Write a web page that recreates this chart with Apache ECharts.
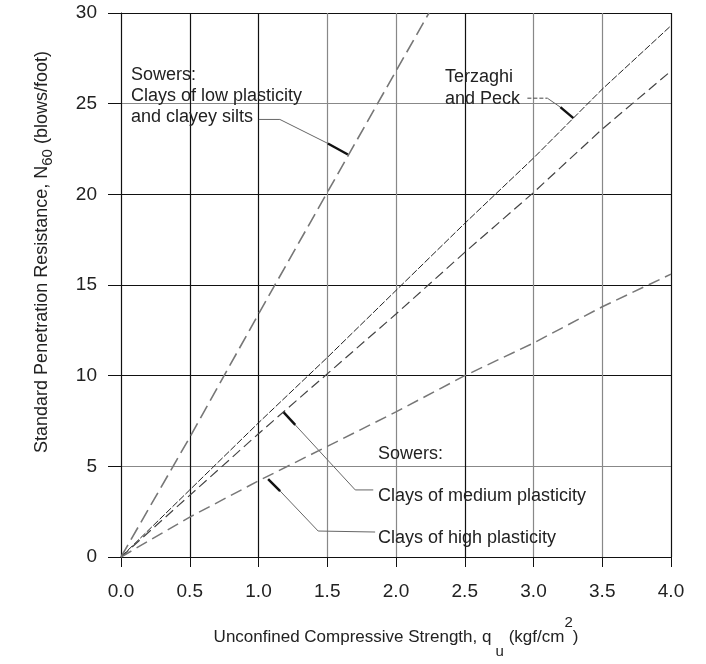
<!DOCTYPE html>
<html><head><meta charset="utf-8">
<script src="https://cdn.jsdelivr.net/npm/echarts@6/dist/echarts.min.js"></script>
<style>html,body{margin:0;padding:0;background:#fff}#c{width:706px;height:664px}</style>
</head><body><div id="c"></div>
<script>
// ---- data ----
const quLow = [0, 0.5, 1.0, 1.5, 2.0, 2.24];
const nLow = [0, 6.6, 13.4, 20.1, 26.8, 30];
const quTP = [0, 0.5, 1.0, 1.5, 2.0, 2.5, 3.0, 3.5, 4.0];
const nTP = [0, 3.7, 7.4, 11.0, 14.7, 18.4, 22.0, 25.8, 29.3];
const quMed = [0, 0.5, 1.0, 1.5, 2.0, 2.5, 3.0, 3.5, 4.0];
const nMed = [0, 3.4, 6.8, 10.1, 13.4, 16.8, 20.1, 23.6, 26.8];
const quHigh = [0, 0.5, 1.0, 1.5, 2.0, 2.5, 3.0, 3.5, 4.0];
const nHigh = [0, 2.2, 4.2, 6.1, 8.0, 10.0, 11.8, 13.8, 15.6];
const xTickLabels = ['0.0','0.5','1.0','1.5','2.0','2.5','3.0','3.5','4.0'];
const yTickLabels = ['0','5','10','15','20','25','30'];
// annotation arrow tips (data coords)
const tipLow = [1.65, 22.2];
const tipTP = [3.29, 24.2];
const tipMed = [1.18, 8.0];
const tipHigh = [1.07, 4.3];

const zip = (a, b) => a.map((v, i) => [v, b[i]]);
const FONT = '"Liberation Sans", Arial, sans-serif';

const chart = echarts.init(document.getElementById('c'), null, {renderer: 'canvas'});
const vGrid = ['#111','#111','#111','#888','#888','#111','#888','#888','#111'];
const hGrid = ['#111','#888','#111','#111','#111','#888','#111'];

chart.setOption({
  animation: false,
  backgroundColor: '#fff',
  grid: {left: 121, top: 13, width: 550, height: 550, containLabel: false},
  xAxis: {
    type: 'value', min: 0, max: 4, interval: 0.5,
    axisLine: {show: true, lineStyle: {color: '#111', width: 1}},
    axisTick: {show: true, length: 10, inside: false, lineStyle: {color: '#111'}},
    splitLine: {show: true, lineStyle: {color: vGrid, width: 1.2}},
    axisLabel: {margin: 25, fontSize: 19, fontFamily: FONT, color: '#222',
      formatter: (v) => xTickLabels[Math.round(v / 0.5)]},
    name: '{n|Unconfined Compressive Strength, q}{sub| u}{n| (kgf/cm}{sup|2}{n|)}',
    nameLocation: 'middle', nameGap: 58,
    nameTextStyle: {
      rich: {
        n: {fontSize: 17, fontFamily: FONT, color: '#222', lineHeight: 44},
        sub: {fontSize: 15, fontFamily: FONT, color: '#222', lineHeight: 30, verticalAlign: 'bottom'},
        sup: {fontSize: 15, fontFamily: FONT, color: '#222', lineHeight: 12, verticalAlign: 'top'}
      }
    }
  },
  yAxis: {
    type: 'value', min: 0, max: 30, interval: 5,
    axisLine: {show: true, lineStyle: {color: '#111', width: 1}},
    axisTick: {show: true, length: 13, inside: false, lineStyle: {color: '#111'}},
    splitLine: {show: true, lineStyle: {color: hGrid, width: 1.2}},
    axisLabel: {margin: 24, fontSize: 19, fontFamily: FONT, color: '#222',
      formatter: (v) => yTickLabels[Math.round(v / 5)]},
    name: '{n|Standard Penetration Resistance, N}{sub|60}{n| (blows/foot)}',
    nameLocation: 'middle', nameGap: 66, nameRotate: 90,
    nameTextStyle: {
      padding: [0, 0, 0, 66],
      rich: {
        n: {fontSize: 18, fontFamily: FONT, color: '#222', lineHeight: 26},
        sub: {fontSize: 15, fontFamily: FONT, color: '#222', lineHeight: 18, verticalAlign: 'bottom'}
      }
    }
  },
  series: [
    {name: 'Sowers low', type: 'line', data: zip(quLow, nLow), showSymbol: false, clip: true,
     lineStyle: {color: '#777', width: 1.6, type: [14, 6]}},
    {name: 'Terzaghi and Peck', type: 'line', data: zip(quTP, nTP), showSymbol: false,
     lineStyle: {color: '#222', width: 1, type: [7, 2]}},
    {name: 'Sowers medium', type: 'line', data: zip(quMed, nMed), showSymbol: false,
     lineStyle: {color: '#444', width: 1.2, type: [10, 5]}},
    {name: 'Sowers high', type: 'line', data: zip(quHigh, nHigh), showSymbol: false,
     lineStyle: {color: '#777', width: 1.5, type: [12, 6]}}
  ]
});

function leader(tipData, pts, dashedPts) {
  const t = chart.convertToPixel({gridIndex: 0}, tipData);
  const abs = pts.map(p => [t[0] + p[0], t[1] + p[1]]);
  const els = [];
  if (dashedPts) {
    els.push({type: 'polyline', shape: {points: dashedPts.map(p => [t[0] + p[0], t[1] + p[1]])},
      style: {stroke: '#444', lineWidth: 1, lineDash: [4, 2], fill: null}});
  }
  els.push({type: 'polyline', shape: {points: abs}, style: {stroke: '#666', lineWidth: 1, fill: null}});
  const last = abs[abs.length - 1];
  els.push({type: 'line', shape: {x1: last[0], y1: last[1], x2: t[0], y2: t[1]},
    style: {stroke: '#111', lineWidth: 2.4}});
  return els;
}
const txt = (text, x, y, lh) => ({type: 'text', x: x, y: y,
  style: {text: text, font: '18px ' + FONT, fill: '#222', lineHeight: lh || 21, verticalAlign: 'top'}});

const g = [];
g.push(txt('Sowers:\nClays of low plasticity\nand clayey silts', 131, 65));
g.push(...leader(tipLow, [[-89, -35], [-68, -35], [-20, -11]]));
g.push(txt('Terzaghi\nand Peck', 445, 66, 22));
g.push(...leader(tipTP, [[-26, -20], [-13, -11]], [[-46, -20], [-26, -20]]));
g.push(txt('Sowers:', 378, 444));
g.push(txt('Clays of medium plasticity', 378, 486));
g.push(txt('Clays of high plasticity', 378, 528));
g.push(...leader(tipMed, [[90, 78], [72, 78], [12, 13]]));
g.push(...leader(tipHigh, [[107, 53], [50, 52], [12, 12]]));
chart.setOption({graphic: {elements: g}});
</script>
</body></html>
